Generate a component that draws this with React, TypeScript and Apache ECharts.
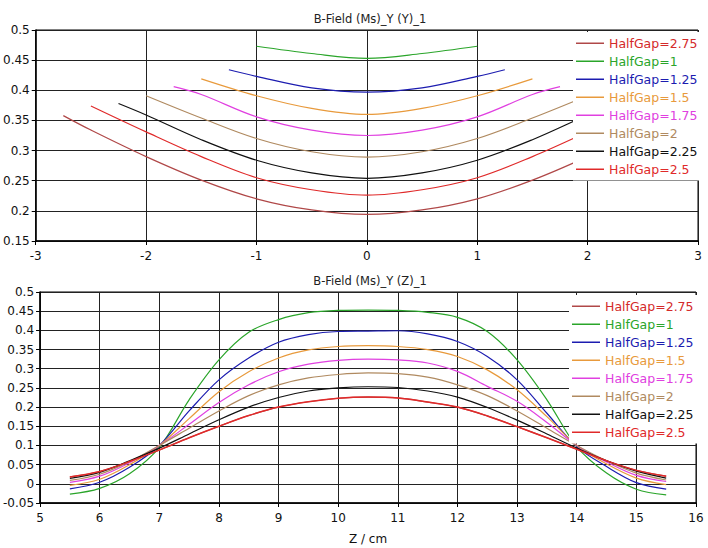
import React, { useEffect, useRef } from "react";
import * as echarts from "echarts";

const seriesNames = ["HalfGap=2.75", "HalfGap=1", "HalfGap=1.25", "HalfGap=1.5", "HalfGap=1.75", "HalfGap=2", "HalfGap=2.25", "HalfGap=2.5"];
const lineColors = ["#b04848", "#2aa52a", "#1c1cb0", "#e89a3c", "#e040e0", "#b08a60", "#111111", "#e02a2a"];
const textColors = ["#d42a2a", "#2aa52a", "#1c1cb0", "#e89a3c", "#e040e0", "#b08a60", "#111111", "#e02a2a"];

// Top chart: B-Field vs Y (each curve spans -HalfGap .. +HalfGap)
const topX: number[][] = [
  [-2.75, -2.5, -2, -1.5, -1, -0.5, 0, 0.5, 1, 1.5, 2, 2.5, 2.75],
  [-1, -0.5, 0, 0.5, 1],
  [-1.25, -1, -0.5, 0, 0.5, 1, 1.25],
  [-1.5, -1, -0.5, 0, 0.5, 1, 1.5],
  [-1.75, -1.5, -1, -0.5, 0, 0.5, 1, 1.5, 1.75],
  [-2, -1.5, -1, -0.5, 0, 0.5, 1, 1.5, 2],
  [-2.25, -2, -1.5, -1, -0.5, 0, 0.5, 1, 1.5, 2, 2.25],
  [-2.5, -2, -1.5, -1, -0.5, 0, 0.5, 1, 1.5, 2, 2.5],
];
const topY: number[][] = [
  [0.358, 0.334, 0.29, 0.251, 0.22, 0.2015, 0.194, 0.2015, 0.22, 0.251, 0.29, 0.334, 0.358],
  [0.473, 0.461, 0.453, 0.461, 0.473],
  [0.434, 0.423, 0.404, 0.397, 0.404, 0.423, 0.434],
  [0.419, 0.391, 0.37, 0.36, 0.37, 0.391, 0.419],
  [0.406, 0.393, 0.356, 0.334, 0.325, 0.334, 0.356, 0.393, 0.406],
  [0.391, 0.354, 0.32, 0.298, 0.289, 0.298, 0.32, 0.354, 0.391],
  [0.378, 0.359, 0.318, 0.284, 0.263, 0.254, 0.263, 0.284, 0.318, 0.359, 0.378],
  [0.374, 0.331, 0.29, 0.255, 0.235, 0.226, 0.235, 0.255, 0.29, 0.331, 0.374],
];

// Bottom chart: B-Field vs Z
const zValues = [5.5, 6, 6.5, 7, 7.5, 8, 8.5, 9, 9.5, 10, 10.5, 11, 11.5, 12, 12.5, 13, 13.5, 14, 14.5, 15, 15.5];
const bottomY: number[][] = [
  [0.018, 0.032, 0.058, 0.088, 0.12, 0.15, 0.178, 0.2, 0.214, 0.223, 0.226, 0.224, 0.213, 0.2, 0.177, 0.149, 0.12, 0.09, 0.06, 0.035, 0.02],
  [-0.027, -0.012, 0.026, 0.095, 0.219, 0.323, 0.395, 0.428, 0.446, 0.452, 0.453, 0.452, 0.447, 0.434, 0.397, 0.323, 0.219, 0.097, 0.028, -0.014, -0.029],
  [-0.013, 0.004, 0.043, 0.1, 0.19, 0.271, 0.328, 0.369, 0.389, 0.397, 0.398, 0.399, 0.391, 0.371, 0.332, 0.271, 0.184, 0.097, 0.045, 0.003, -0.014],
  [-0.004, 0.012, 0.05, 0.1, 0.17, 0.24, 0.292, 0.328, 0.349, 0.358, 0.36, 0.358, 0.35, 0.332, 0.297, 0.245, 0.175, 0.1, 0.052, 0.015, -0.002],
  [0.004, 0.02, 0.055, 0.1, 0.155, 0.212, 0.258, 0.292, 0.312, 0.322, 0.325, 0.323, 0.315, 0.293, 0.254, 0.215, 0.16, 0.1, 0.057, 0.022, 0.006],
  [0.009, 0.025, 0.058, 0.1, 0.145, 0.19, 0.23, 0.258, 0.276, 0.285, 0.289, 0.287, 0.278, 0.258, 0.23, 0.19, 0.145, 0.1, 0.06, 0.028, 0.01],
  [0.014, 0.03, 0.06, 0.093, 0.13, 0.167, 0.2, 0.225, 0.242, 0.25, 0.253, 0.251, 0.242, 0.226, 0.199, 0.166, 0.13, 0.093, 0.06, 0.033, 0.015],
  [0.018, 0.032, 0.058, 0.088, 0.12, 0.15, 0.178, 0.2, 0.214, 0.223, 0.226, 0.224, 0.213, 0.2, 0.177, 0.149, 0.12, 0.09, 0.06, 0.035, 0.02],
];

const FONT = "DejaVu Sans";

export default function App() {
  const ref = useRef<HTMLDivElement>(null);
  useEffect(() => {
    document.body.style.margin = "0";
    if (!ref.current) return;
    const chart = echarts.init(ref.current, undefined, { renderer: "svg" });

    const axisCommon = {
      axisLine: { show: true, onZero: false, lineStyle: { color: "#000", width: 1.5 } },
      axisTick: { show: true, length: 4, lineStyle: { color: "#000" } },
      axisLabel: { color: "#111", fontFamily: FONT, fontSize: 12 },
      splitLine: { show: true, lineStyle: { color: "#222", width: 1 } },
    };

    const legendCommon = {
      orient: "vertical" as const,
      backgroundColor: "#fff",
      icon: "rect",
      itemWidth: 28,
      itemHeight: 1.5,
      itemGap: 3.5,
      padding: [4, 8, 4, 3],
      textStyle: { fontFamily: FONT, fontSize: 12.5, lineHeight: 14.5 },
      data: seriesNames.map((n, i) => ({ name: n, textStyle: { color: textColors[i] } })),
      selectedMode: false,
    };

    const series: any[] = [];
    seriesNames.forEach((n, i) => {
      series.push({
        name: n,
        type: "line",
        xAxisIndex: 0,
        yAxisIndex: 0,
        data: topX[i].map((x, j) => [x, topY[i][j]]),
        smooth: 0.35,
        showSymbol: false,
        symbol: "none",
        lineStyle: { color: lineColors[i], width: 1.2 },
        itemStyle: { color: lineColors[i] },
      });
    });
    seriesNames.forEach((n, i) => {
      series.push({
        name: n,
        type: "line",
        xAxisIndex: 1,
        yAxisIndex: 1,
        data: zValues.map((z, j) => [z, bottomY[i][j]]),
        smooth: 0.35,
        showSymbol: false,
        symbol: "none",
        lineStyle: { color: lineColors[i], width: i === 7 ? 1.5 : 1.2 },
        itemStyle: { color: lineColors[i] },
      });
    });

    chart.setOption({
      animation: false,
      backgroundColor: "#fff",
      textStyle: { fontFamily: FONT },
      title: [
        { text: "B-Field (Ms)_Y (Y)_1", left: 365, top: 8, textAlign: "center", textStyle: { fontFamily: FONT, fontSize: 11.5, fontWeight: "normal", color: "#222" } },
        { text: "B-Field (Ms)_Y (Z)_1", left: 365, top: 270, textAlign: "center", textStyle: { fontFamily: FONT, fontSize: 11.5, fontWeight: "normal", color: "#222" } },
      ],
      legend: [
        { ...legendCommon, left: 573, top: 32 },
        { ...legendCommon, left: 569, top: 295 },
      ],
      grid: [
        { left: 32, right: 10, top: 30, height: 211, show: true, borderColor: "#000", borderWidth: 1, backgroundColor: "#fff" },
        { left: 35, right: 12, top: 292, height: 211, show: true, borderColor: "#000", borderWidth: 1, backgroundColor: "#fff" },
      ],
      xAxis: [
        { ...axisCommon, type: "value", gridIndex: 0, min: -3, max: 3, interval: 1, axisLabel: { ...axisCommon.axisLabel, margin: 9 } },
        { ...axisCommon, type: "value", gridIndex: 1, min: 5, max: 16, interval: 1, name: "Z / cm", nameLocation: "middle", nameGap: 30, nameTextStyle: { fontFamily: FONT, fontSize: 12, color: "#111" }, axisLabel: { ...axisCommon.axisLabel, margin: 9 } },
      ],
      yAxis: [
        { ...axisCommon, type: "value", gridIndex: 0, min: 0.15, max: 0.5, interval: 0.05, axisLabel: { ...axisCommon.axisLabel, margin: 6 } },
        { ...axisCommon, type: "value", gridIndex: 1, min: -0.05, max: 0.5, interval: 0.05, axisLabel: { ...axisCommon.axisLabel, margin: 6, formatter: (v: number) => String(Math.round(v * 100) / 100) } },
      ],
      series,
    });
    return () => chart.dispose();
  }, []);
  return <div ref={ref} style={{ width: 708, height: 548 }} />;
}
